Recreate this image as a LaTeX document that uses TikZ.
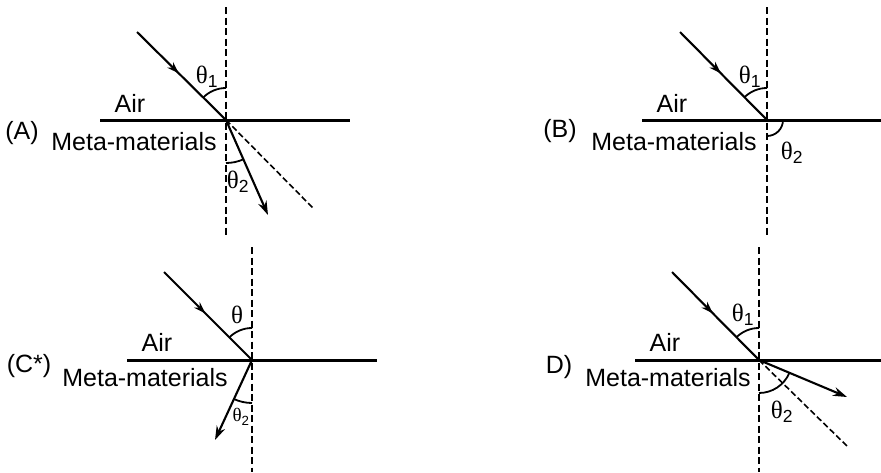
\documentclass[tikz,border=0pt]{standalone}
\usepackage{fontspec}
\setmainfont{Liberation Sans}
\newfontfamily\thfont{Liberation Serif}
\usetikzlibrary{arrows.meta,decorations.markings}
\newcommand{\thsym}{{\thfont θ}}
\begin{document}
\begin{tikzpicture}[x=1pt,y=1pt,
  surface/.style={line width=3pt},
  normalline/.style={line width=1.9pt, dash pattern=on 7pt off 3.5pt},
  ray/.style={line width=2.1pt},
  incident/.style={ray, postaction={decorate}, decoration={markings, mark=at position 0.47 with {\arrow{Stealth[length=12pt,width=8pt]}}}},
  refr/.style={ray, -{Stealth[length=14pt,width=9pt]}},
  ext/.style={line width=1.6pt, dash pattern=on 6pt off 3pt},
  angarc/.style={line width=1.8pt},
  lbl/.style={font=\fontsize{25}{28}\selectfont, inner sep=0pt},
  thl/.style={font=\fontsize{25}{28}\selectfont, inner sep=0pt},
  thsmall/.style={font=\fontsize{19}{22}\selectfont, inner sep=0pt}
]
\useasboundingbox (0,0) rectangle (881,-472);

% ---------- Panel A ----------
\coordinate (OA) at (226,-120);
\coordinate (nAt) at (226,-7);
\coordinate (nAb) at (226,-236);
\coordinate (sAl) at (100,-120);
\coordinate (sAr) at (350,-120);
\coordinate (iA) at (137,-32);
\coordinate (rA) at (268,-215);
\coordinate (eA) at (313,-208);
\draw[normalline] (nAt) -- (nAb);
\draw[surface] (sAl) -- (sAr);
\draw[incident] (iA) -- (OA);
\draw[refr] (OA) -- (rA);
\draw[ext] (OA) -- (eA);
\draw[angarc] ([shift={(90:32)}]OA) arc[start angle=90,end angle=135,radius=32];
\draw[angarc] ([shift={(-90:43)}]OA) arc[start angle=-90,end angle=-66,radius=43];
\node[thl] (tA1) at (207,-77) {\thsym\textsubscript{1}};
\node[thl] (tA2) at (238,-182) {\thsym\textsubscript{2}};
\node[lbl] (airA) at (130,-103) {Air};
\node[lbl] (labA) at (22,-133) {(A)};
\node[lbl] (metaA) at (134,-142) {Meta-materials};

% ---------- Panel B ----------
\coordinate (OB) at (767,-120);
\coordinate (nBt) at (767,-7);
\coordinate (nBb) at (767,-236);
\coordinate (sBl) at (642,-120);
\coordinate (sBr) at (881,-120);
\coordinate (iB) at (680,-32);
\draw[normalline] (nBt) -- (nBb);
\draw[surface] (sBl) -- (sBr);
\draw[incident] (iB) -- (OB);
\draw[angarc] ([shift={(90:32)}]OB) arc[start angle=90,end angle=135,radius=32];
\draw[angarc] ([shift={(0:16)}]OB) arc[start angle=0,end angle=-90,radius=16];
\node[thl] (tB1) at (750,-77) {\thsym\textsubscript{1}};
\node[thl] (tB2) at (792,-153) {\thsym\textsubscript{2}};
\node[lbl] (airB) at (672,-103) {Air};
\node[lbl] (labB) at (560,-131) {(B)};
\node[lbl] (metaB) at (674,-142) {Meta-materials};

% ---------- Panel C ----------
\coordinate (OC) at (252,-360);
\coordinate (nCt) at (252,-247);
\coordinate (nCb) at (252,-472);
\coordinate (sCl) at (127,-360);
\coordinate (sCr) at (377,-360);
\coordinate (iC) at (164,-272);
\coordinate (rC) at (215,-440);
\draw[normalline] (nCt) -- (nCb);
\draw[surface] (sCl) -- (sCr);
\draw[incident] (iC) -- (OC);
\draw[refr] (OC) -- (rC);
\draw[angarc] ([shift={(90:32)}]OC) arc[start angle=90,end angle=135,radius=32];
\draw[angarc] ([shift={(-90:43)}]OC) arc[start angle=-90,end angle=-115,radius=43];
\node[thl] (tC1) at (237,-315) {\thsym};
\node[thsmall] (tC2) at (241,-417) {\thsym\textsubscript{2}};
\node[lbl] (airC) at (157,-342) {Air};
\node[lbl] (labC) at (29,-366) {(C*)};
\node[lbl] (metaC) at (145,-378) {Meta-materials};

% ---------- Panel D ----------
\coordinate (OD) at (759,-360);
\coordinate (nDt) at (759,-247);
\coordinate (nDb) at (759,-472);
\coordinate (sDl) at (635,-360);
\coordinate (sDr) at (881,-360);
\coordinate (iD) at (672,-272);
\coordinate (rD) at (847,-397);
\coordinate (eD) at (848,-447);
\draw[normalline] (nDt) -- (nDb);
\draw[surface] (sDl) -- (sDr);
\draw[incident] (iD) -- (OD);
\draw[refr] (OD) -- (rD);
\draw[ext] (OD) -- (eD);
\draw[angarc] ([shift={(90:32)}]OD) arc[start angle=90,end angle=135,radius=32];
\draw[angarc] ([shift={(-90:33)}]OD) arc[start angle=-90,end angle=-23,radius=33];
\node[thl] (tD1) at (743,-315) {\thsym\textsubscript{1}};
\node[thl] (tD2) at (782,-412) {\thsym\textsubscript{2}};
\node[lbl] (airD) at (665,-342) {Air};
\node[lbl] (labD) at (559,-367) {D)};
\node[lbl] (metaD) at (668,-378) {Meta-materials};
\end{tikzpicture}
\end{document}
